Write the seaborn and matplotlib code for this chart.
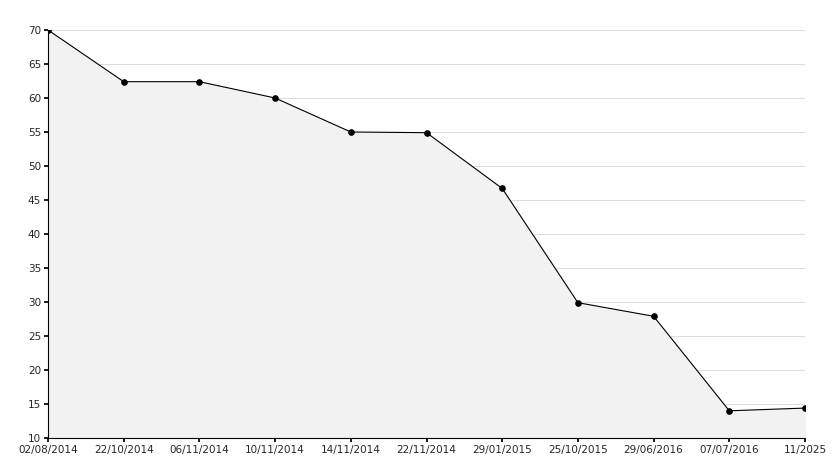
import matplotlib
matplotlib.use("Agg")
import matplotlib.pyplot as plt
import seaborn as sns
import pandas as pd

dates = ["02/08/2014","22/10/2014","06/11/2014","10/11/2014","14/11/2014","22/11/2014",
         "29/01/2015","25/10/2015","29/06/2016","07/07/2016","11/2025"]
values = [70, 62.4, 62.4, 60, 55, 54.9, 46.7, 29.9, 27.9, 14, 14.4]

sns.set_theme(style="white")
plt.rcParams['font.family'] = ['DejaVu Sans']
df = pd.DataFrame({"x": range(len(dates)), "y": values})

fig = plt.figure(figsize=(8.34, 4.68), dpi=100)
ax = fig.add_axes([48/834, 30/468, (805-48)/834, (438-30)/468])
ax.fill_between(df.x, df.y, 10, color="#f2f2f2", zorder=1)
sns.lineplot(data=df, x="x", y="y", ax=ax, color="black", linewidth=0.8,
             marker="o", markersize=4, markeredgecolor="black", zorder=3)
ax.set_xlim(0, len(dates)-1)
ax.set_ylim(10, 70)
ax.set_yticks(range(10, 71, 5))
ax.set_xticks(range(len(dates)))
ax.set_xticklabels(dates)
ax.tick_params(labelsize=7.5, length=3, color="black", direction="out", left=True, bottom=True, pad=2)
ax.grid(axis="y", color="#dddddd", linewidth=0.8, zorder=0)
ax.set_axisbelow(True)
ax.set_xlabel(""); ax.set_ylabel("")
for s in ["top", "right"]:
    ax.spines[s].set_visible(False)
for s in ["left", "bottom"]:
    ax.spines[s].set_color("black"); ax.spines[s].set_linewidth(0.8)
fig.savefig("out.png", dpi=100)
